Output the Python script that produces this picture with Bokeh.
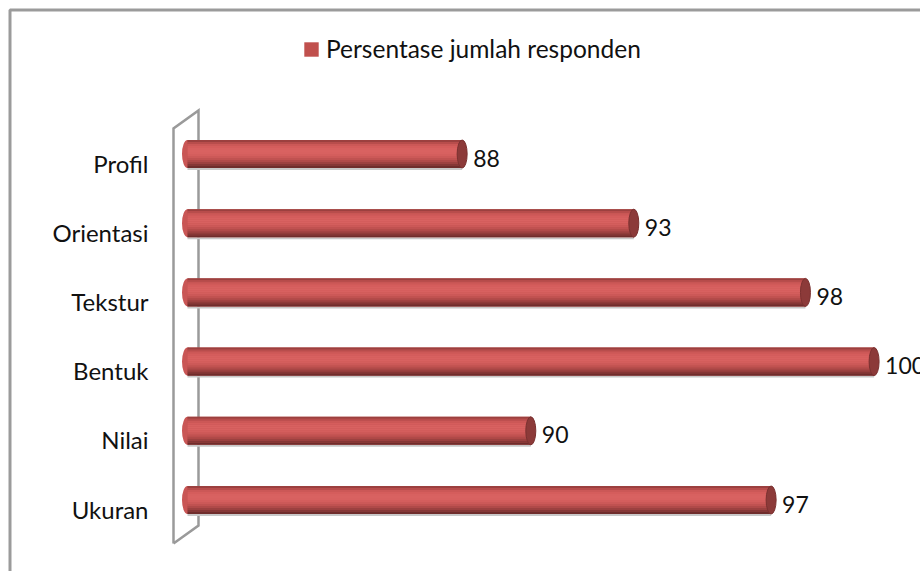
from bokeh.plotting import figure
from bokeh.models import (Range1d, Legend, LegendItem, BoxAnnotation,
                          ColumnDataSource)
from bokeh.embed import file_html
from bokeh.resources import INLINE
from bokeh.core.properties import value

# ---- data -------------------------------------------------------------
categories = ["Ukuran", "Nilai", "Bentuk", "Tekstur", "Orientasi", "Profil"]
percentages = [97, 90, 100, 98, 93, 88]
series_name = "Persentase jumlah responden"
axis_min = 80

# ---- geometry ---------------------------------------------------------
W, H = 920, 571
PX_X = 34.33      # pixels per percentage point
PX_Y = 69.2       # pixels per category slot
X0_PX = 187       # canvas x of axis_min
Y0_PX = 508.5     # canvas y of the first category

x_start = axis_min - X0_PX / PX_X
x_end = x_start + W / PX_X
y_start = -(H - Y0_PX) / PX_Y
y_end = Y0_PX / PX_Y

DEPTH_DX, DEPTH_DY = 25, 18           # 3-D depth of the category wall (px)
BAR_H = 28 / PX_Y                     # cylinder diameter in data units
n = len(categories)
pos = list(range(n))
bar_y = [i + (DEPTH_DY / 2) / PX_Y for i in pos]   # bars sit mid-depth
labels = [str(v) for v in percentages]

FONT = "Lato"
TEXT_COLOR = "#111111"

p = figure(width=W, height=H, output_backend="svg", toolbar_location=None,
           x_range=Range1d(x_start, x_end), y_range=Range1d(y_start, y_end),
           x_axis_location=None, y_axis_location=None,
           min_border_left=0, min_border_right=0,
           min_border_top=0, min_border_bottom=0)
p.outline_line_color = None
p.xgrid.visible = False
p.ygrid.visible = False
p.background_fill_color = "white"
p.border_fill_color = "white"

# ---- 3-D wall behind the bars -----------------------------------------------
front_x = axis_min - 14 / PX_X
back_x = front_x + DEPTH_DX / PX_X
lo, hi = -0.5, n - 0.5
dy = DEPTH_DY / PX_Y
p.line(x=[front_x, front_x, back_x, back_x, front_x, front_x],
       y=[lo, hi, hi + dy, lo + dy, lo, lo],
       line_color="#9a9a9a", line_width=2.5, line_join="miter")

# ---- category labels along the wall ------------------------------------------
cat_src = ColumnDataSource(dict(y=pos, name=categories))
p.text(x=axis_min, y="y", text="name", source=cat_src, x_offset=-39,
       text_font=value(FONT), text_font_size="24px", text_color=TEXT_COLOR,
       text_align="right", text_baseline="middle")

# ---- cylinders ------------------------------------------------------------
src = ColumnDataSource(dict(cat=categories, y=bar_y, v=percentages, lab=labels))

# soft shadow under each cylinder
shadow_y = [y - BAR_H / 2 - 1 / PX_Y for y in bar_y]
p.hbar(y=shadow_y, left=axis_min, right=percentages, height=2 / PX_Y,
       fill_color="#c8c8c8", line_color=None)

# rounded left end
p.ellipse(x=axis_min, y="y", width=11, height=BAR_H, width_units="screen",
          height_units="data", source=src, fill_color="#c95655",
          line_color=None)

base = p.hbar(y="y", left=axis_min, right="v", height=BAR_H, source=src,
              fill_color="#c0504d", line_color=None)

shade = ["#9c403f", "#b84d4c", "#cc5857", "#d55d5c", "#d86160", "#d96261",
         "#d86160", "#d45e5d", "#cc5958", "#c05251", "#b04a49", "#9c4140",
         "#853736", "#6f2d2c"]
band = BAR_H / len(shade)
for k, col in enumerate(shade):
    off = BAR_H / 2 - band * (k + 0.5)
    p.hbar(y=[y + off for y in bar_y], left=axis_min, right=percentages,
           height=band * 1.05, fill_color=col, line_color=None)

# elliptical end face
p.ellipse(x="v", y="y", width=10, height=BAR_H, width_units="screen",
          height_units="data", source=src, fill_color="#8c3a39",
          line_color="#7a3130", line_width=1)

# value labels
p.text(x="v", y="y", text="lab", source=src, x_offset=11, y_offset=4,
       text_font=value(FONT), text_font_size="23px", text_color=TEXT_COLOR,
       text_align="left", text_baseline="middle")

# ---- legend -------------------------------------------------------------
legend = Legend(items=[LegendItem(label=series_name, renderers=[base])],
                location=(302, H - 63), orientation="horizontal",
                glyph_width=18, glyph_height=18, label_height=18,
                label_standoff=6, padding=0, margin=0, spacing=0,
                border_line_color=None, background_fill_alpha=0,
                label_text_font=FONT, label_text_font_size="24.5px",
                label_text_color=TEXT_COLOR)
p.add_layout(legend)

# ---- chart border -------------------------------------------------------
p.add_layout(BoxAnnotation(left=9.5, right=W + 40, top=9.5, bottom=H + 40,
                           left_units="canvas", right_units="canvas",
                           top_units="canvas", bottom_units="canvas",
                           fill_color=None, fill_alpha=0,
                           line_color="#9b9b9b", line_alpha=1,
                           line_width=3))

open("out.html", "w").write(file_html(p, INLINE))
